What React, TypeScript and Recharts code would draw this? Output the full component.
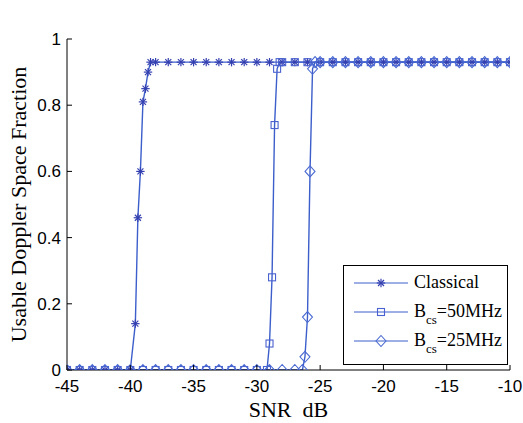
import React from 'react';
import { LineChart, Line, XAxis, YAxis, Legend, Label } from 'recharts';

// SNR (dB) sample points and usable Doppler space fraction per method
const classicalSnr = [-45, -44, -43, -42, -41, -40, -39.6, -39.4, -39.2, -39, -38.8, -38.6, -38.4, -38, -37, -36, -35, -34, -33, -32, -31, -30, -29, -28, -27, -26, -25, -24, -23, -22, -21, -20, -19, -18, -17, -16, -15, -14, -13, -12, -11, -10];
const classicalFrac = [0, 0, 0, 0, 0, 0, 0.14, 0.46, 0.6, 0.81, 0.85, 0.9, 0.93, 0.93, 0.93, 0.93, 0.93, 0.93, 0.93, 0.93, 0.93, 0.93, 0.93, 0.93, 0.93, 0.93, 0.93, 0.93, 0.93, 0.93, 0.93, 0.93, 0.93, 0.93, 0.93, 0.93, 0.93, 0.93, 0.93, 0.93, 0.93, 0.93];

const bcs50Snr = [-45, -44, -43, -42, -41, -40, -39, -38, -37, -36, -35, -34, -33, -32, -31, -30, -29.2, -29, -28.8, -28.6, -28.4, -28.2, -28, -27, -26, -25, -24, -23, -22, -21, -20, -19, -18, -17, -16, -15, -14, -13, -12, -11, -10];
const bcs50Frac = [0, 0, 0, 0, 0, 0, 0, 0, 0, 0, 0, 0, 0, 0, 0, 0, 0, 0.08, 0.28, 0.74, 0.91, 0.93, 0.93, 0.93, 0.93, 0.93, 0.93, 0.93, 0.93, 0.93, 0.93, 0.93, 0.93, 0.93, 0.93, 0.93, 0.93, 0.93, 0.93, 0.93, 0.93];

const bcs25Snr = [-45, -44, -43, -42, -41, -40, -39, -38, -37, -36, -35, -34, -33, -32, -31, -30, -29, -28, -27, -26.4, -26.2, -26, -25.8, -25.6, -25.4, -25, -24, -23, -22, -21, -20, -19, -18, -17, -16, -15, -14, -13, -12, -11, -10];
const bcs25Frac = [0, 0, 0, 0, 0, 0, 0, 0, 0, 0, 0, 0, 0, 0, 0, 0, 0, 0, 0, 0, 0.04, 0.16, 0.6, 0.91, 0.93, 0.93, 0.93, 0.93, 0.93, 0.93, 0.93, 0.93, 0.93, 0.93, 0.93, 0.93, 0.93, 0.93, 0.93, 0.93, 0.93];

const xTicks = [-45, -40, -35, -30, -25, -20, -15, -10];
const yTicks = [0, 0.2, 0.4, 0.6, 0.8, 1];

const SERIF = '"Liberation Serif", "Times New Roman", serif';
const SANS = '"Liberation Sans", Arial, sans-serif';
const LINE_COLOR = '#3c5ecb';
const STAR_COLOR = '#3440b0';
const SQUARE_COLOR = '#4a62cf';
const DIAMOND_COLOR = '#4a6ad2';

const toPoints = (xs: number[], ys: number[]) => xs.map((x, i) => ({ snr: x, frac: ys[i] }));

const classical = toPoints(classicalSnr, classicalFrac);
const bcs50 = toPoints(bcs50Snr, bcs50Frac);
const bcs25 = toPoints(bcs25Snr, bcs25Frac);

function Star({ cx, cy, color }: { cx: number; cy: number; color: string }) {
  const r = 4.2;
  const d = 3;
  return (
    <g stroke={color} strokeWidth={1.2}>
      <line x1={cx - r} y1={cy} x2={cx + r} y2={cy} />
      <line x1={cx} y1={cy - r} x2={cx} y2={cy + r} />
      <line x1={cx - d} y1={cy - d} x2={cx + d} y2={cy + d} />
      <line x1={cx - d} y1={cy + d} x2={cx + d} y2={cy - d} />
    </g>
  );
}

function Square({ cx, cy, color }: { cx: number; cy: number; color: string }) {
  return <rect x={cx - 3.5} y={cy - 3.5} width={7} height={7} fill="none" stroke={color} strokeWidth={1.1} />;
}

function Diamond({ cx, cy, color }: { cx: number; cy: number; color: string }) {
  return (
    <path
      d={`M${cx},${cy - 5.5} L${cx + 5},${cy} L${cx},${cy + 5.5} L${cx - 5},${cy} Z`}
      fill="none"
      stroke={color}
      strokeWidth={1.1}
    />
  );
}

const bottomTick = (props: any) => {
  const { x, y, payload } = props;
  return (
    <g>
      <line x1={x} y1={y} x2={x} y2={y - 5} stroke="#000" />
      <text x={x} y={y + 22} textAnchor="middle" fontFamily={SANS} fontSize={17} fill="#000">
        {payload.value}
      </text>
    </g>
  );
};

const leftTick = (props: any) => {
  const { x, y, payload } = props;
  return (
    <g>
      <line x1={x} y1={y} x2={x + 5} y2={y} stroke="#000" />
      <text x={x - 6} y={y + 6} textAnchor="end" fontFamily={SANS} fontSize={17} fill="#000">
        {payload.value}
      </text>
    </g>
  );
};

const topTick = (props: any) => {
  const { x, y } = props;
  return <line x1={x} y1={y} x2={x} y2={y + 5} stroke="#000" />;
};

const rightTick = (props: any) => {
  const { x, y } = props;
  return <line x1={x} y1={y} x2={x - 5} y2={y} stroke="#000" />;
};

const legendItems = [
  { main: 'Classical', sub: '', rest: '', Marker: Star, color: STAR_COLOR },
  { main: 'B', sub: 'cs', rest: '=50MHz', Marker: Square, color: SQUARE_COLOR },
  { main: 'B', sub: 'cs', rest: '=25MHz', Marker: Diamond, color: DIAMOND_COLOR },
];

function LegendBox() {
  const rows = [17, 46, 75];
  return (
    <div
      style={{
        position: 'relative',
        width: 165,
        height: 100,
        border: '1px solid #000',
        boxSizing: 'border-box',
        background: '#fff',
      }}
    >
      {legendItems.map((item, i) => (
        <div key={item.main + i} style={{ position: 'absolute', left: 0, top: rows[i] - 12, height: 24, width: 165 }}>
          <svg width={70} height={24} style={{ position: 'absolute', left: 0, top: 0 }}>
            <line x1={10} y1={12} x2={64} y2={12} stroke={LINE_COLOR} strokeWidth={1} />
            <item.Marker cx={37} cy={12} color={item.color} />
          </svg>
          <span
            style={{
              position: 'absolute',
              left: 70,
              top: 1,
              fontFamily: SERIF,
              fontSize: 18,
              lineHeight: '20px',
              whiteSpace: 'nowrap',
              color: '#000',
            }}
          >
            {item.main}
            {item.sub && <span style={{ fontSize: 13, position: 'relative', top: 7 }}>{item.sub}</span>}
            {item.rest}
          </span>
        </div>
      ))}
    </div>
  );
}

export default function App() {
  return (
    <div style={{ position: 'absolute', left: 0, top: 0, width: 523, height: 423, background: '#fff' }}>
      <LineChart width={523} height={423} margin={{ top: 39, right: 13, bottom: 23, left: 0 }}>
        <XAxis
          dataKey="snr"
          type="number"
          domain={[-45, -10]}
          ticks={xTicks}
          interval={0}
          allowDataOverflow
          height={30}
          tickSize={0}
          tickMargin={0}
          tickLine={false}
          axisLine={{ stroke: '#000' }}
          tick={bottomTick}
        >
          <Label
            content={(p: any) => (
              <text
                x={p.viewBox.x + p.viewBox.width / 2}
                y={417}
                textAnchor="middle"
                fontFamily={SERIF}
                fontSize={22}
                fill="#000"
              >
                {'SNR\u00A0\u00A0dB'}
              </text>
            )}
          />
        </XAxis>
        <XAxis
          xAxisId="top"
          orientation="top"
          dataKey="snr"
          type="number"
          domain={[-45, -10]}
          ticks={xTicks}
          interval={0}
          allowDataOverflow
          height={0}
          tickSize={0}
          tickMargin={0}
          tickLine={false}
          axisLine={{ stroke: '#000' }}
          tick={topTick}
        >
          <Label
            content={(p: any) => (
              <text
                x={p.viewBox.x + p.viewBox.width / 2}
                y={23}
                textAnchor="middle"
                fontFamily={SERIF}
                fontSize={21}
                fill="#000"
              >
                L=100, SCR=-40dB
              </text>
            )}
          />
        </XAxis>
        <YAxis
          type="number"
          domain={[0, 1]}
          ticks={yTicks}
          interval={0}
          allowDataOverflow
          width={67}
          tickSize={0}
          tickMargin={0}
          tickLine={false}
          axisLine={{ stroke: '#000' }}
          tick={leftTick}
        >
          <Label
            content={(p: any) => {
              const cy = p.viewBox.y + p.viewBox.height / 2;
              return (
                <text
                  x={26}
                  y={cy}
                  transform={`rotate(-90 26 ${cy})`}
                  textAnchor="middle"
                  fontFamily={SERIF}
                  fontSize={22}
                  fill="#000"
                >
                  Usable Doppler Space Fraction
                </text>
              );
            }}
          />
        </YAxis>
        <YAxis
          yAxisId="right"
          orientation="right"
          type="number"
          domain={[0, 1]}
          ticks={yTicks}
          interval={0}
          allowDataOverflow
          width={0}
          tickSize={0}
          tickMargin={0}
          tickLine={false}
          axisLine={{ stroke: '#000' }}
          tick={rightTick}
        />
        <Legend
          verticalAlign="middle"
          align="center"
          layout="horizontal"
          wrapperStyle={{ left: 343, top: 265, width: 165, height: 100 }}
          content={() => <LegendBox />}
        />
        <Line
          data={classical}
          dataKey="frac"
          name="Classical"
          stroke={LINE_COLOR}
          strokeWidth={1.4}
          isAnimationActive={false}
          dot={(p: any) => <Star key={`c${p.index}`} cx={p.cx} cy={p.cy} color={STAR_COLOR} />}
          activeDot={false}
        />
        <Line
          data={bcs50}
          dataKey="frac"
          name="Bcs=50MHz"
          stroke={LINE_COLOR}
          strokeWidth={1.4}
          isAnimationActive={false}
          dot={(p: any) => <Square key={`s${p.index}`} cx={p.cx} cy={p.cy} color={SQUARE_COLOR} />}
          activeDot={false}
        />
        <Line
          data={bcs25}
          dataKey="frac"
          name="Bcs=25MHz"
          stroke={LINE_COLOR}
          strokeWidth={1.4}
          isAnimationActive={false}
          dot={(p: any) => <Diamond key={`d${p.index}`} cx={p.cx} cy={p.cy} color={DIAMOND_COLOR} />}
          activeDot={false}
        />
      </LineChart>
    </div>
  );
}
